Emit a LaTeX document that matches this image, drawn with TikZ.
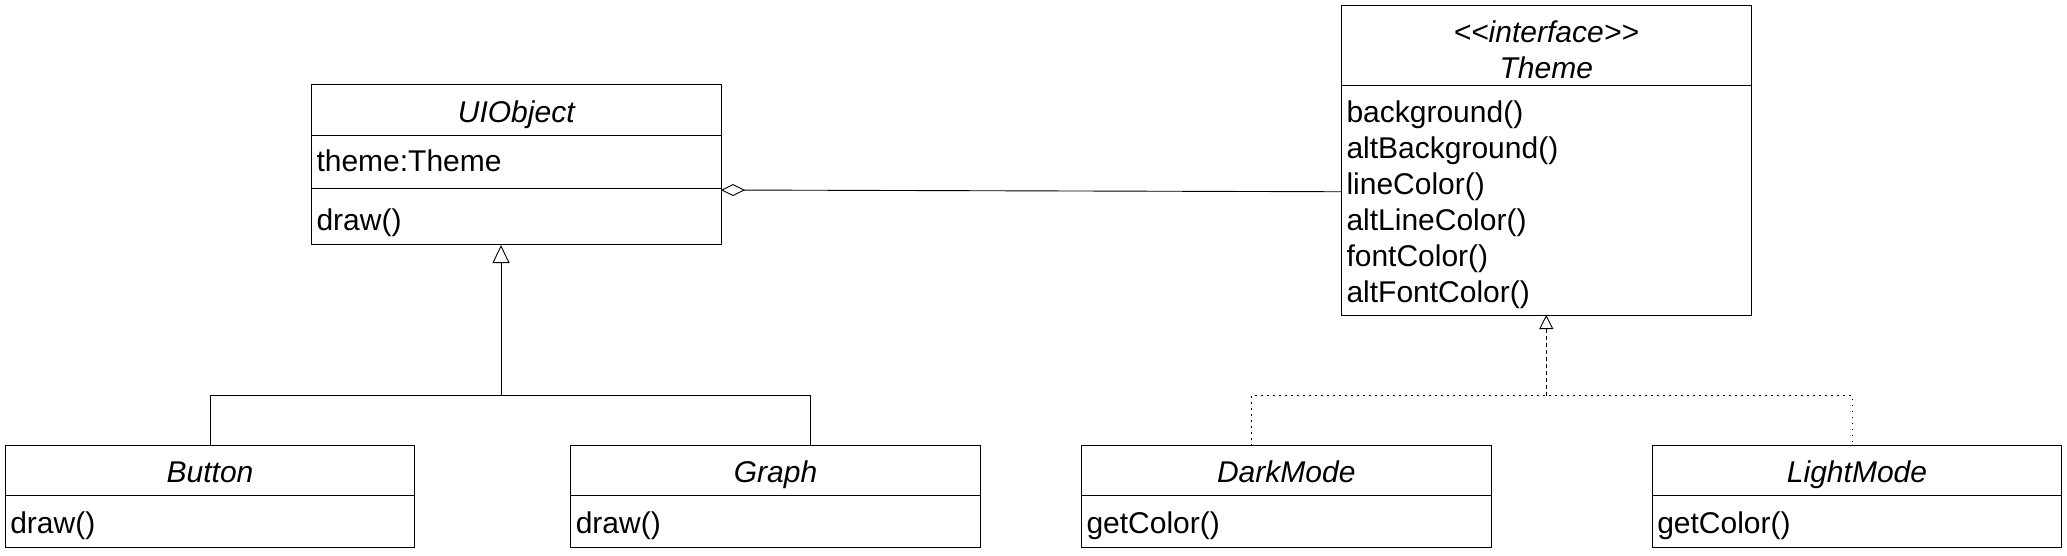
\documentclass[tikz,border=0pt]{standalone}
\usepackage{fontspec}
\newfontfamily\umlfont{Liberation Sans}
\usetikzlibrary{arrows.meta, positioning}

\begin{document}
\begin{tikzpicture}[x=1pt, y=-1pt,
    font=\umlfont\fontsize{30}{36}\selectfont,
    box/.style={draw, rectangle, line width=1pt, inner sep=0pt, outer sep=0pt, minimum width=409.5pt},
    classname/.style={box, font=\umlfont\itshape\fontsize{30}{36}\selectfont, align=center},
    members/.style={box, text width=399.5pt, inner xsep=5pt, align=left},
    onerow/.style={text height=26pt, text depth=2pt},
    link/.style={line width=0.9pt},
    inherit/.style={link, -{Triangle[open, length=18pt, width=17pt]}},
    realize/.style={link, dash pattern=on 4pt off 3pt, -{Triangle[open, length=14pt, width=14pt]}},
    aggregate/.style={link, {Diamond[open, length=24pt, width=12pt]}-}]
    % --- FRAME ---
    \useasboundingbox (0,0) rectangle (2067,556);

    % --- BASE CLASS ---
    \node[classname, onerow, minimum height=50.5pt] (uiobj) at (516.25,110.25) {UIObject};
    \node[members, text height=21pt, text depth=2pt, minimum height=53.5pt, below=0pt of uiobj] (uiobjattr) {theme:Theme};
    \node[members, text height=28pt, text depth=0pt, minimum height=56pt, below=0pt of uiobjattr] (uiobjops) {draw()};

    % --- INTERFACE ---
    \node[classname, minimum height=80pt] (theme) at (1546.25,45.5)
        {\rule{0pt}{30pt}\textless\kern0pt\textless interface\textgreater\kern0pt\textgreater\\Theme};
    \node[members, minimum height=229.5pt, below=0pt of theme] (themeops)
        {\rule{0pt}{30pt}background()\\altBackground()\\lineColor()\\altLineColor()\\fontColor()\\altFontColor()};

    % --- SUBCLASSES ---
    \node[classname, onerow, minimum height=50pt] (button) at (210,470.5) {Button};
    \node[members, onerow, minimum height=51.5pt, below=0pt of button] (buttonops) {draw()};
    \node[classname, onerow, minimum height=50pt] (graph) at (775.5,470.5) {Graph};
    \node[members, onerow, minimum height=51.5pt, below=0pt of graph] (graphops) {draw()};

    % --- IMPLEMENTATIONS ---
    \node[classname, onerow, minimum height=50pt] (darkmode) at (1286.25,470.5) {DarkMode};
    \node[members, onerow, minimum height=51.5pt, below=0pt of darkmode] (darkmodeops) {getColor()};
    \node[classname, onerow, minimum height=50pt] (lightmode) at (1857,470.5) {LightMode};
    \node[members, onerow, minimum height=51.5pt, below=0pt of lightmode] (lightmodeops) {getColor()};

    % --- JUNCTIONS ---
    \coordinate (uibus) at (501,395.5);
    \coordinate (themebus) at (1546.25,395.7);

    % --- CONNECTORS ---
    % inheritance tree
    \draw[link] (button.north) |- (uibus) -| ([xshift=35pt]graph.north);
    \draw[inherit] (uibus) -- (uibus |- uiobjops.south);
    % realization tree
    \draw[link, dash pattern=on 1.5pt off 4.5pt] ([xshift=-35pt]darkmode.north) |- (themebus) -| ([xshift=-4.5pt]lightmode.north);
    \draw[realize] (themebus) -- (themeops.south);
    % aggregation
    \draw[aggregate] ([yshift=-1pt]uiobjattr.south east) -- ([yshift=8.5pt]themeops.west);

\end{tikzpicture}
\end{document}
